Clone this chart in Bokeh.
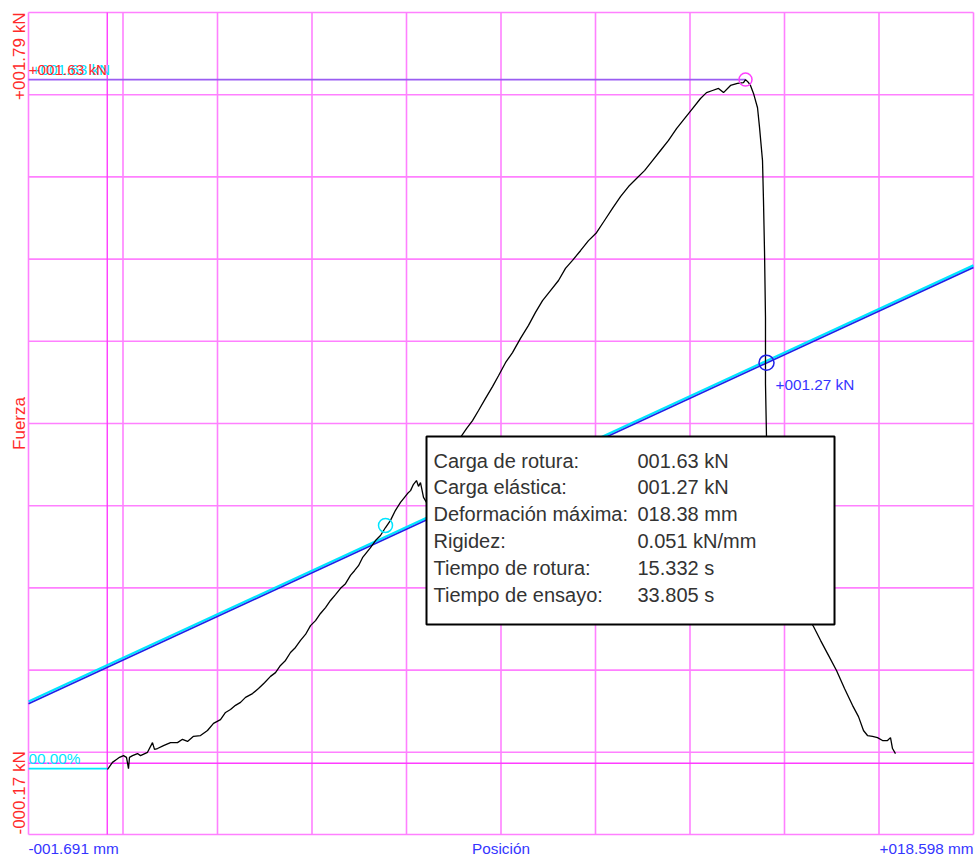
import math
from bokeh.plotting import figure
from bokeh.models import Range1d, Label, BoxAnnotation
from bokeh.embed import file_html
from bokeh.resources import INLINE

# ---------------- data ----------------
X_MIN, X_MAX = -1.691, 18.598      # Posición (mm)
Y_MIN, Y_MAX = -0.17, 1.79         # Fuerza (kN)

pos_mm = [0.005, 0.048, 0.112, 0.198, 0.263, 0.349, 0.413, 0.456, 0.477, 0.542,
          0.649, 0.714, 0.864, 0.971, 1.014, 1.079, 1.207, 1.358, 1.508, 1.615,
          1.723, 1.852, 2.002, 2.152, 2.281, 2.431, 2.539, 2.646, 2.753, 2.861,
          2.968, 3.118, 3.247, 3.376, 3.505, 3.612, 3.719, 3.827, 3.934, 4.041,
          4.149, 4.256, 4.364, 4.471, 4.578, 4.686, 4.793, 4.900, 5.008, 5.115,
          5.222, 5.308, 5.394, 5.480, 5.566, 5.652, 5.759, 5.866, 5.974, 6.081,
          6.188, 6.296, 6.382, 6.446, 6.511, 6.575, 6.639, 6.682, 6.725, 6.790,
          6.854, 7.155, 7.412, 7.584, 7.713, 7.842, 7.971, 8.121, 8.271, 8.400,
          8.550, 8.700, 8.872, 9.044, 9.194, 9.345, 9.516, 9.688, 9.838, 9.989,
          10.160, 10.332, 10.504, 10.676, 10.847, 11.019, 11.191, 11.363, 11.535, 11.706,
          11.878, 12.050, 12.222, 12.393, 12.565, 12.737, 12.866, 12.994, 13.123, 13.231,
          13.381, 13.531, 13.660, 13.703, 13.767, 13.810, 13.875, 13.961, 14.004, 14.068,
          14.089, 14.111, 14.132, 14.132, 14.154, 14.175, 14.283, 14.562, 14.884, 15.163,
          15.313, 15.485, 15.657, 15.829, 16.000, 16.129, 16.236, 16.322, 16.430, 16.537,
          16.644, 16.752, 16.816, 16.859, 16.923]
force_kN = [-0.015, -0.008, 0.002, 0.009, 0.014, 0.018, 0.014, -0.013, 0.014, 0.018,
            0.023, 0.018, 0.026, 0.049, 0.033, 0.035, 0.042, 0.049, 0.049, 0.057,
            0.052, 0.064, 0.066, 0.078, 0.095, 0.104, 0.121, 0.128, 0.138, 0.145,
            0.157, 0.166, 0.178, 0.192, 0.207, 0.216, 0.233, 0.245, 0.264, 0.276,
            0.293, 0.307, 0.328, 0.340, 0.357, 0.371, 0.388, 0.402, 0.417, 0.428,
            0.448, 0.459, 0.471, 0.490, 0.502, 0.514, 0.531, 0.543, 0.562, 0.579,
            0.603, 0.622, 0.634, 0.643, 0.650, 0.665, 0.674, 0.660, 0.669, 0.634,
            0.622, 0.698, 0.750, 0.777, 0.798, 0.817, 0.841, 0.870, 0.898, 0.924,
            0.955, 0.979, 1.013, 1.044, 1.075, 1.103, 1.127, 1.151, 1.180, 1.199,
            1.222, 1.246, 1.265, 1.294, 1.323, 1.351, 1.375, 1.394, 1.413, 1.437,
            1.461, 1.485, 1.513, 1.537, 1.561, 1.585, 1.599, 1.604, 1.609, 1.599,
            1.616, 1.621, 1.623, 1.630, 1.623, 1.616, 1.597, 1.563, 1.516, 1.437,
            1.342, 1.222, 1.063, 0.905, 0.777, 0.674, 0.555, 0.448, 0.376, 0.326,
            0.293, 0.257, 0.221, 0.178, 0.138, 0.111, 0.078, 0.066, 0.064, 0.061,
            0.054, 0.054, 0.061, 0.035, 0.023]

# stiffness (Rigidez) fitted lines
fit_x = [X_MIN, X_MAX]
fit_blue = [0.142, 1.182]
fit_cyan = [0.147, 1.187]

# baseline (00.00 %) segment
base_x = [X_MIN, 0.005]
base_y = [-0.013, -0.013]

# marked points
peak_x, peak_F = 13.703, 1.630          # carga de rotura
yield_x, yield_F = 14.154, 0.955        # carga elástica
start_x, start_F = 5.974, 0.567         # inicio tramo elástico

info_labels = ["Carga de rotura:", "Carga elástica:", "Deformación máxima:",
               "Rigidez:", "Tiempo de rotura:", "Tiempo de ensayo:"]
info_values = ["001.63 kN", "001.27 kN", "018.38 mm", "0.051 kN/mm",
               "15.332 s", "33.805 s"]

x_left_label = "-001.691 mm"
x_right_label = "+018.598 mm"
x_title = "Posición"
y_top_label = "+001.79 kN"
y_bottom_label = "-000.17 kN"
y_title = "Fuerza"

# ---------------- layout ----------------
W, H = 976, 860
FR_L, FR_R, FR_T, FR_B = 28, 973, 12, 834     # drawn chart frame in canvas px
mm_px = (X_MAX - X_MIN) / (FR_R - FR_L)
kn_px = (Y_MAX - Y_MIN) / (FR_B - FR_T)
xr = Range1d(X_MIN - FR_L * mm_px, X_MIN + (W - FR_L) * mm_px)
yr = Range1d(Y_MAX - (H - FR_T) * kn_px, Y_MAX + FR_T * kn_px)

FONT = "Liberation Sans"
GRID = "#ff80ff"
GRID_DARK = "#ff3cff"
RED = "#ff2a2a"
BLUE = "#3535ff"
CYAN = "#00e5ff"
SMALL = "15.3px"

p = figure(width=W, height=H, x_range=xr, y_range=yr,
           x_axis_type=None, y_axis_type=None,
           output_backend="svg", toolbar_location=None,
           min_border=0)
p.outline_line_color = None
p.background_fill_color = "white"
p.border_fill_color = "white"

# grid: 10 equal divisions + frame edges
nx = 10
xt = [X_MIN + k * (X_MAX - X_MIN) / nx for k in range(0, nx + 1)]
yt = [Y_MIN + k * (Y_MAX - Y_MIN) / nx for k in range(0, nx + 1)]
p.segment(x0=xt, y0=[Y_MIN] * len(xt), x1=xt, y1=[Y_MAX] * len(xt),
          line_color=GRID, line_width=1.6)
p.segment(x0=[X_MIN] * len(yt), y0=yt, x1=[X_MAX] * len(yt), y1=yt,
          line_color=GRID, line_width=1.6)
p.segment(x0=[0.0], y0=[Y_MIN], x1=[0.0], y1=[Y_MAX], line_color=GRID_DARK, line_width=1.4)
p.segment(x0=[X_MIN], y0=[0.0], x1=[X_MAX], y1=[0.0], line_color=GRID_DARK, line_width=1.4)

# lines
p.line([X_MIN, peak_x], [peak_F, peak_F], line_color="#9a5cf2", line_width=1.7)
p.line(base_x, base_y, line_color=CYAN, line_width=1.8)
p.line(fit_x, fit_cyan, line_color=CYAN, line_width=2.3)
p.line(fit_x, fit_blue, line_color="#2020e6", line_width=1.6)
p.line(pos_mm, force_kN, line_color="black", line_width=1.3)

p.scatter([peak_x], [peak_F], marker="circle", size=13, fill_color=None,
          line_color="#ff40ff", line_width=1.5)
p.scatter([yield_x], [yield_F], marker="circle", size=15, fill_color=None,
          line_color="#2020e6", line_width=1.5)
p.scatter([start_x], [start_F], marker="circle", size=14, fill_color=None,
          line_color=CYAN, line_width=1.5)

# info box
BOX_L, BOX_R, BOX_B, BOX_T = 6.854, 15.614, 0.331, 0.779
p.add_layout(BoxAnnotation(left=BOX_L, right=BOX_R, bottom=BOX_B, top=BOX_T,
                           fill_color="white", fill_alpha=1.0,
                           line_color="black", line_width=2, line_alpha=1.0))
for i, (lab, val) in enumerate(zip(info_labels, info_values)):
    yo = -(24 + 26.8 * i)
    p.add_layout(Label(x=BOX_L, y=BOX_T, x_offset=7, y_offset=yo, text=lab,
                       text_font=FONT, text_font_size="20px", text_color="#333333",
                       text_baseline="middle"))
    p.add_layout(Label(x=BOX_L, y=BOX_T, x_offset=211, y_offset=yo, text=val,
                       text_font=FONT, text_font_size="20px", text_color="#333333",
                       text_baseline="middle"))

# in-plot labels
p.add_layout(Label(x=X_MIN, y=peak_F, x_offset=3, y_offset=10, text="+001.63 kN",
                   text_font=FONT, text_font_size=SMALL, text_color=CYAN,
                   text_baseline="middle"))
p.add_layout(Label(x=X_MIN, y=peak_F, x_offset=0, y_offset=10, text="+001.63 kN",
                   text_font=FONT, text_font_size=SMALL, text_color=RED,
                   text_baseline="middle"))
p.add_layout(Label(x=X_MIN, y=base_y[0], x_offset=0, y_offset=10.5, text="00.00%",
                   text_font=FONT, text_font_size=SMALL, text_color=CYAN,
                   text_baseline="middle"))
p.add_layout(Label(x=yield_x, y=yield_F, x_offset=9, y_offset=-22, text="+001.27 kN",
                   text_font=FONT, text_font_size=SMALL, text_color=BLUE,
                   text_baseline="middle"))

# axis texts (bottom)
for txt, xx, al in [(x_left_label, X_MIN, "left"),
                    (x_title, (X_MIN + X_MAX) / 2, "center"),
                    (x_right_label, X_MAX, "right")]:
    p.add_layout(Label(x=xx, y=Y_MIN, y_offset=-14, text=txt, text_align=al,
                       text_font=FONT, text_font_size=SMALL, text_color=BLUE,
                       text_baseline="middle"))

# axis texts (left, rotated)
for txt, yy, al in [(y_top_label, Y_MAX, "right"),
                    (y_title, (Y_MIN + Y_MAX) / 2, "center"),
                    (y_bottom_label, Y_MIN, "left")]:
    p.add_layout(Label(x=X_MIN, y=yy, x_offset=-9, text=txt, text_align=al,
                       angle=math.pi / 2, angle_units="rad",
                       text_font=FONT, text_font_size="17px", text_color=RED,
                       text_baseline="middle"))

open("out.html", "w").write(file_html(p, INLINE))
